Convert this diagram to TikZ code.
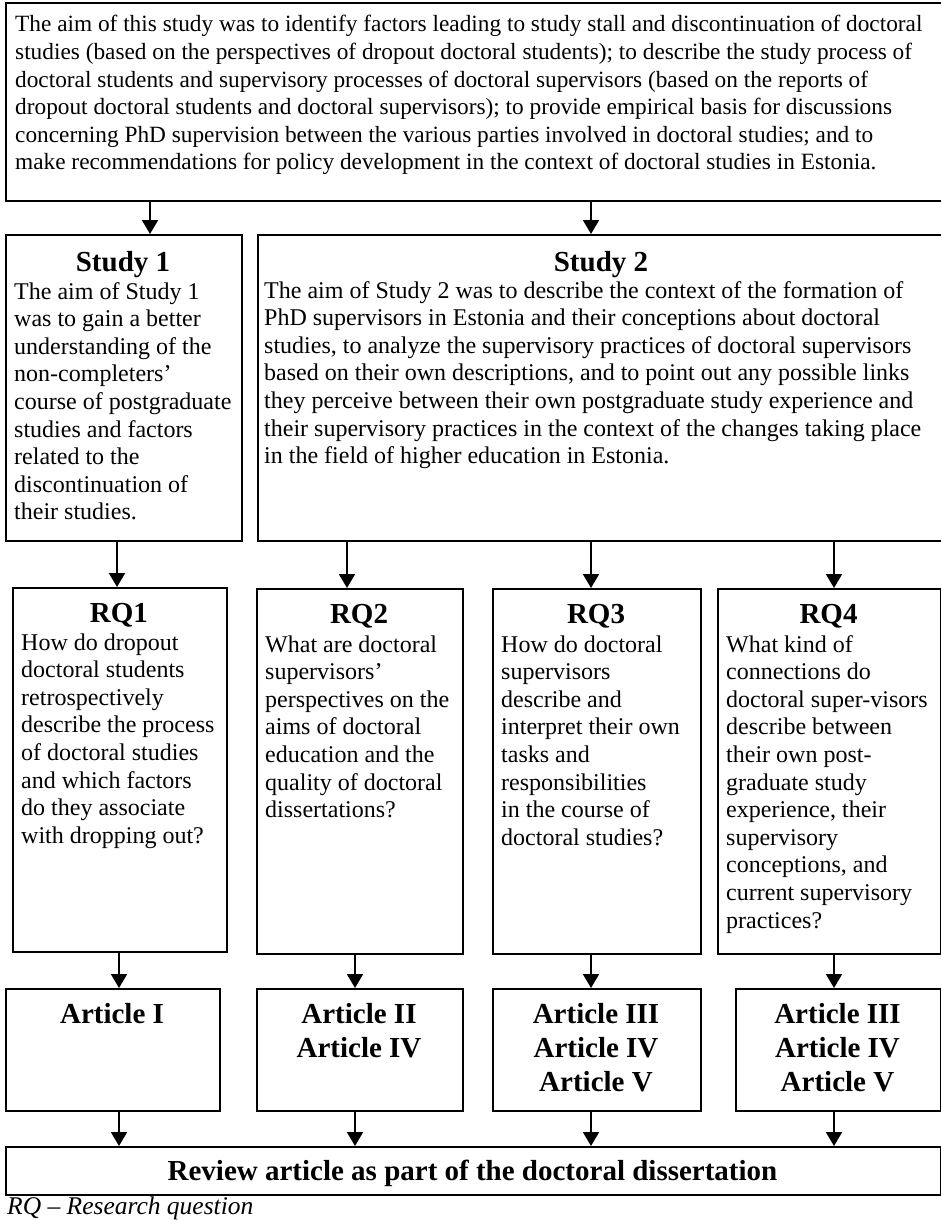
\documentclass[tikz,border=0pt]{standalone}
\usepackage{fontspec}
\setmainfont{Liberation Serif}
\usetikzlibrary{arrows.meta}

% font sizes used in the chart
\newcommand\bodyfont{\fontsize{24}{27.6}\selectfont}
\newcommand\topfont{\fontsize{23.3}{27.6}\selectfont}
\newcommand\headfont{\fontsize{29}{34.4}\selectfont\bfseries}
% left-aligned block whose reference point is the first baseline
\newcommand\leftlines[2]{\parbox[t]{930pt}{#1\raggedright #2}}
% centred block whose reference point is the first baseline
\newcommand\midlines[2]{\parbox[t]{300pt}{#1\centering #2}}

\tikzset{
  frame/.style={draw, line width=2pt, anchor=north west, inner sep=0pt},
  txt/.style={inner sep=0pt, anchor=base west},
  head/.style={inner sep=0pt, anchor=base},
  arr/.style={line width=2pt, -{Triangle[width=16pt,length=14pt]}},
}

\begin{document}
\begin{tikzpicture}[x=1pt, y=-1pt]
\useasboundingbox (0,0) rectangle (941,1220);
\clip (0,0) rectangle (941,1220);

% ---------- boxes ----------
\node[frame, minimum width=940pt, minimum height=198pt] (aim) at (5,2) {};
\node[frame, minimum width=236pt, minimum height=306pt] (s1) at (5,234) {};
\node[frame, minimum width=688pt, minimum height=306pt] (s2) at (257,234) {};
\node[frame, minimum width=214pt, minimum height=364pt] (rq1) at (12,587) {};
\node[frame, minimum width=206pt, minimum height=365pt] (rq2) at (256,588) {};
\node[frame, minimum width=208pt, minimum height=365pt] (rq3) at (492,588) {};
\node[frame, minimum width=223pt, minimum height=365pt] (rq4) at (717,588) {};
\node[frame, minimum width=214pt, minimum height=122pt] (a1) at (5,988) {};
\node[frame, minimum width=206pt, minimum height=122pt] (a2) at (256,988) {};
\node[frame, minimum width=208pt, minimum height=122pt] (a3) at (492,988) {};
\node[frame, minimum width=205pt, minimum height=122pt] (a4) at (735,988) {};
\node[frame, minimum width=935pt, minimum height=48pt] (rev) at (5,1146) {};

% ---------- texts ----------
\node[txt] (aimtxt) at (15,32) {\leftlines{\topfont}{%
The aim of this study was to identify factors leading to study stall and discontinuation of doctoral\\
studies (based on the perspectives of dropout doctoral students); to describe the study process of\\
doctoral students and supervisory processes of doctoral supervisors (based on the reports of\\
dropout doctoral students and doctoral supervisors); to provide empirical basis for discussions\\
concerning PhD supervision between the various parties involved in doctoral studies; and to\\
make recommendations for policy development in the context of doctoral studies in Estonia.}};

\node[head] (s1head) at (123,271) {\midlines{\headfont}{Study 1}};
\node[txt] (s1txt) at (14,299) {\leftlines{\bodyfont}{%
The aim of Study 1\\
was to gain a better\\
understanding of the\\
non-completers’\\
course of postgraduate\\
studies and factors\\
related to the\\
discontinuation of\\
their studies.}};

\node[head] (s2head) at (601,271) {\midlines{\headfont}{Study 2}};
\node[txt] (s2txt) at (264,298) {\leftlines{\bodyfont}{%
The aim of Study 2 was to describe the context of the formation of\\
PhD supervisors in Estonia and their conceptions about doctoral\\
studies, to analyze the supervisory practices of doctoral supervisors\\
based on their own descriptions, and to point out any possible links\\
they perceive between their own postgraduate study experience and\\
their supervisory practices in the context of the changes taking place\\
in the field of higher education in Estonia.}};

\node[head] (rq1head) at (119,622) {\midlines{\headfont}{RQ1}};
\node[txt] (rq1txt) at (21,650) {\leftlines{\bodyfont}{%
How do dropout\\
doctoral students\\
retrospectively\\
describe the process\\
of doctoral studies\\
and which factors\\
do they associate\\
with dropping out?}};

\node[head] (rq2head) at (359,623) {\midlines{\headfont}{RQ2}};
\node[txt] (rq2txt) at (265,652) {\leftlines{\bodyfont}{%
What are doctoral\\
supervisors’\\
perspectives on the\\
aims of doctoral\\
education and the\\
quality of doctoral\\
dissertations?}};

\node[head] (rq3head) at (596,623) {\midlines{\headfont}{RQ3}};
\node[txt] (rq3txt) at (501,652) {\leftlines{\bodyfont}{%
How do doctoral\\
supervisors\\
describe and\\
interpret their own\\
tasks and\\
responsibilities\\
in the course of\\
doctoral studies?}};

\node[head] (rq4head) at (828.5,623) {\midlines{\headfont}{RQ4}};
\node[txt] (rq4txt) at (726,652) {\leftlines{\bodyfont}{%
What kind of\\
connections do\\
doctoral super-visors\\
describe between\\
their own post-\\
graduate study\\
experience, their\\
supervisory\\
conceptions, and\\
current supervisory\\
practices?}};

\node[head] (a1txt) at (112,1023) {\midlines{\headfont}{Article I}};
\node[head] (a2txt) at (359,1023) {\midlines{\headfont}{Article II\\Article IV}};
\node[head] (a3txt) at (596,1023) {\midlines{\headfont}{Article III\\Article IV\\Article V}};
\node[head] (a4txt) at (837.5,1023) {\midlines{\headfont}{Article III\\Article IV\\Article V}};

\node[head] (revtxt) at (472.5,1180) {\parbox[t]{900pt}{\headfont\centering Review article as part of the doctoral dissertation}};

\node[txt] (note) at (7,1214) {\fontsize{25.5}{28}\selectfont\itshape RQ – Research question};

% ---------- arrow columns ----------
\coordinate (xaim1) at (150,0);
\coordinate (xaim2) at (591,0);
\coordinate (xq1) at (117,0);
\coordinate (xq2) at (347,0);
\coordinate (xq3) at (591,0);
\coordinate (xq4) at (834,0);
\coordinate (xb1) at (119,0);
\coordinate (xb2) at (355,0);
\coordinate (xb3) at (591,0);
\coordinate (xb4) at (834,0);

% ---------- connectors ----------
\draw[arr] (aim.south -| xaim1) -- (s1.north -| xaim1);
\draw[arr] (aim.south -| xaim2) -- (s2.north -| xaim2);
\draw[arr] (s1.south -| xq1) -- (rq1.north -| xq1);
\draw[arr] (s2.south -| xq2) -- (rq2.north -| xq2);
\draw[arr] (s2.south -| xq3) -- (rq3.north -| xq3);
\draw[arr] (s2.south -| xq4) -- (rq4.north -| xq4);
\draw[arr] (rq1.south -| xb1) -- (a1.north -| xb1);
\draw[arr] (rq2.south -| xb2) -- (a2.north -| xb2);
\draw[arr] (rq3.south -| xb3) -- (a3.north -| xb3);
\draw[arr] (rq4.south -| xb4) -- (a4.north -| xb4);
\draw[arr] (a1.south -| xb1) -- (rev.north -| xb1);
\draw[arr] (a2.south -| xb2) -- (rev.north -| xb2);
\draw[arr] (a3.south -| xb3) -- (rev.north -| xb3);
\draw[arr] (a4.south -| xb4) -- (rev.north -| xb4);
\end{tikzpicture}
\end{document}
